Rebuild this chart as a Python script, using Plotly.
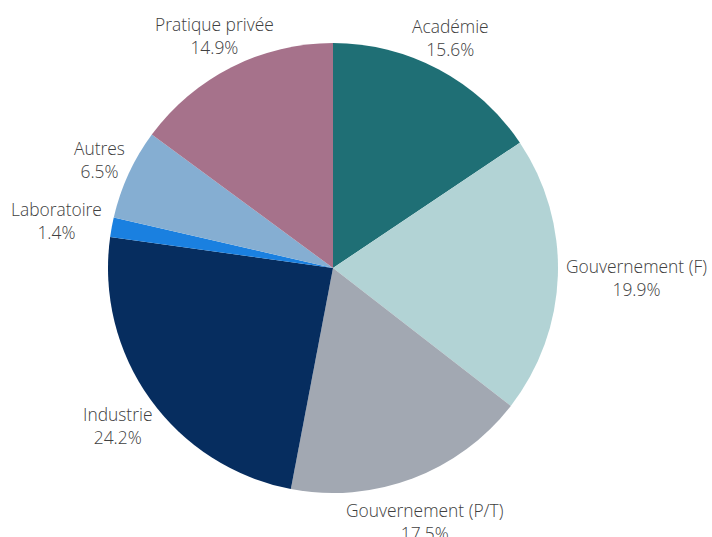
import math
import plotly.graph_objects as go

labels = ["Académie", "Gouvernement (F)", "Gouvernement (P/T)", "Industrie",
          "Laboratoire", "Autres", "Pratique privée"]
values = [15.6, 19.9, 17.5, 24.2, 1.4, 6.5, 14.9]
colors = ["#1f6f75", "#b2d3d5", "#a2a8b2", "#062d5f", "#1a80e0", "#85aed2", "#a6728b"]

W, H = 712, 537
cx, cy, r = 333, 268, 225
FS = 17.4
GAP = 8
HH_UP, HH_DOWN = 28, 38

fig = go.Figure(go.Pie(
    labels=labels,
    values=values,
    sort=False,
    direction="clockwise",
    rotation=0,
    marker=dict(colors=colors, line=dict(width=0)),
    textinfo="none",
    domain=dict(x=[(cx - r) / W, (cx + r) / W],
                y=[(H - cy - r) / H, (H - cy + r) / H]),
    showlegend=False,
    hoverinfo="label+percent",
))

total = sum(values)
cum = 0.0
annotations = []
for lab, v in zip(labels, values):
    mid = (cum + v / 2) / total * 2 * math.pi
    cum += v
    ux, uy = math.sin(mid), -math.cos(mid)  # screen coords (y down)
    pct = f"{v / total * 100:.1f}%"
    hw = max(len(lab), len(pct)) * FS * 0.255
    hh = HH_DOWN if uy > 0 else HH_UP
    px = cx + (r + GAP) * ux + hw * ux * abs(ux)
    py = cy + (r + GAP) * uy + hh * uy
    annotations.append(dict(
        x=px / W, y=1 - py / H, xref="paper", yref="paper",
        text=f"{lab}<br>{pct}", showarrow=False,
        xanchor="center", yanchor="middle", align="center",
        font=dict(family="Open Sans", size=FS, color="#404040", weight=300),
    ))

fig.update_layout(
    width=W, height=H,
    margin=dict(l=0, r=0, t=0, b=0),
    paper_bgcolor="white",
    plot_bgcolor="white",
    annotations=annotations,
)

fig.write_html(
    "out.html",
    config={"displayModeBar": False},
    post_script="document.body.style.margin='0';document.body.style.overflow='hidden';",
)
